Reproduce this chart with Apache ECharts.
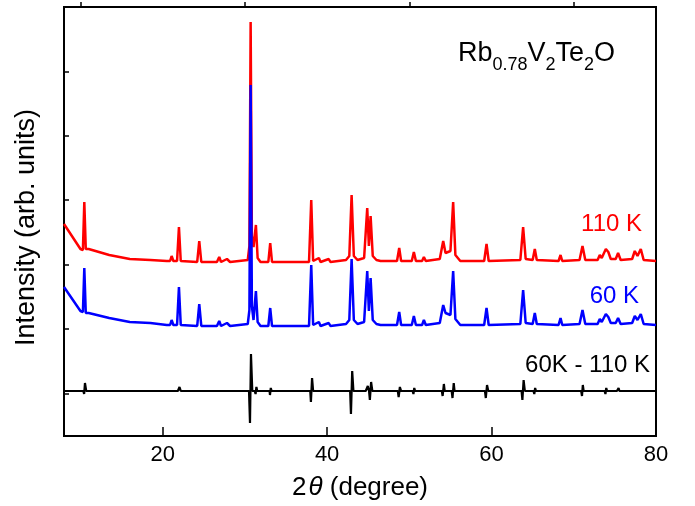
<!DOCTYPE html>
<html>
<head>
<meta charset="utf-8">
<script src="https://cdn.jsdelivr.net/npm/echarts@6/dist/echarts.min.js"></script>
<style>html,body{margin:0;padding:0;background:#fff}#c{width:695px;height:506px}</style>
</head>
<body>
<div id="c"></div>
<script>
// 2θ (degree), intensity (arb. units, vertically offset as plotted)
var red110K = [
[8.0,212],[10.0,187],[10.3,186],[10.47,234],[10.65,187],[11.0,187],[13.5,181],[16.0,177],[18.5,176],
[20.5,175],[20.9,175],[21.09,180],[21.3,175],[21.75,175],[21.98,209],[22.2,175],[24.2,174],[24.45,195],[24.7,174],
[26.6,174],[26.88,179],[27.1,174],[27.82,177],[28.2,174],[30.35,176],[30.55,190],[30.70,414],[30.85,200],[31.05,189],
[31.34,211],[31.55,178],[31.9,174],[32.85,174],[33.08,193],[33.3,174],[37.8,174],[38.07,236],[38.3,175],[39.0,178],
[39.2,174],[40.2,177],[40.4,174],[42.3,176],[42.7,180],[42.98,241],[43.25,180],[43.7,176],[44.5,178],[44.88,228],
[45.08,190],[45.29,220],[45.55,180],[46.0,176],[46.21,178],[46.5,175],[48.5,175],[48.77,188],[49.0,175],[50.3,175],
[50.55,184],[50.8,175],[51.55,175],[51.77,179],[52.0,175],[53.7,177],[54.12,195],[54.4,183],[55.0,185],[55.33,234],
[55.6,181],[56.2,175],[59.1,175],[59.39,192],[59.65,175],[63.5,176],[63.84,209],[64.15,177],[65.0,176],[65.26,187],
[65.5,176],[68.15,175],[68.39,181],[68.6,175],[70.7,176],[71.06,190],[71.4,176],[72.9,176],[73.16,181],[73.4,178],
[73.9,187],[74.2,184],[74.5,177],[75.1,177],[75.39,183],[75.7,176],[77.1,177],[77.42,185],[77.75,180],[78.15,187],
[78.5,176],[80.0,175]
];
var blue60K = [
[8.0,149],[10.0,125],[10.3,124],[10.47,168],[10.65,123],[11.0,123],[13.5,118],[16.0,114],[18.5,113],
[20.5,111],[20.9,111],[21.09,116],[21.3,111],[21.75,111],[21.98,149],[22.2,111],[24.2,110],[24.45,132],[24.7,110],
[26.6,110],[26.88,115],[27.1,110],[27.82,113],[28.2,110],[30.35,112],[30.55,126],[30.70,351],[30.85,130],[31.05,116],
[31.34,145],[31.55,114],[31.9,110],[32.85,110],[33.08,128],[33.3,110],[37.8,110],[38.07,171],[38.3,111],[39.0,114],
[39.2,110],[40.2,113],[40.4,110],[42.3,112],[42.7,116],[42.98,177],[43.25,116],[43.7,112],[44.5,114],[44.88,165],
[45.08,125],[45.29,158],[45.55,116],[46.0,112],[46.21,114],[46.5,111],[48.5,111],[48.77,124],[49.0,111],[50.3,111],
[50.55,120],[50.8,111],[51.55,111],[51.77,116],[52.0,111],[53.7,113],[54.12,131],[54.4,123],[55.0,121],[55.33,165],
[55.6,117],[56.2,111],[59.1,111],[59.39,128],[59.65,111],[63.5,112],[63.84,146],[64.15,113],[65.0,112],[65.26,123],
[65.5,112],[68.15,111],[68.39,118],[68.6,111],[70.7,112],[71.06,126],[71.4,112],[72.9,112],[73.16,117],[73.4,114],
[73.9,122],[74.2,119],[74.5,113],[75.1,113],[75.39,118],[75.7,112],[77.1,113],[77.42,120],[77.75,116],[78.15,122],
[78.5,112],[80.0,111]
];
var diff60Kminus110K = [
[8.0,45],[10.35,45],[10.45,42],[10.55,53],[10.7,45],
[21.85,45],[21.95,43],[22.05,49],[22.2,45],
[30.5,45],[30.62,13],[30.74,82],[30.9,45],
[31.2,45],[31.3,42],[31.4,49],[31.5,45],
[33.0,45],[33.05,41],[33.15,48],[33.25,45],
[37.95,45],[38.03,34],[38.17,58],[38.3,45],
[42.8,45],[42.9,22],[43.05,65],[43.2,45],
[44.7,45],[44.8,43],[44.95,50],[45.1,45],[45.2,36],[45.35,54],[45.5,45],
[48.6,45],[48.7,39],[48.85,49],[49.0,45],
[50.4,45],[50.5,42],[50.6,48],[50.7,45],
[53.95,45],[54.05,40],[54.2,52],[54.3,45],
[55.15,45],[55.25,38],[55.4,53],[55.5,45],
[59.2,45],[59.3,38],[59.45,51],[59.6,45],
[63.65,45],[63.75,36],[63.9,56],[64.05,45],
[65.1,45],[65.2,42],[65.3,48],[65.4,45],
[68.25,45],[68.35,43],[68.45,47],[68.55,45],
[70.9,45],[71.0,40],[71.1,51],[71.2,45],
[73.75,45],[73.85,42],[73.95,48],[74.05,45],
[75.25,45],[75.35,43],[75.45,48],[75.55,45],
[77.3,45],[77.4,43],[77.5,47],[77.6,45],
[78.0,45],[78.1,43],[78.2,47],[78.3,45],[80.0,45]
];
var xMajorTicks = [20, 40, 60, 80];
var xMinorTicks = [10, 30, 50, 70];
var seriesNames = ['110 K', '60 K', '60K - 110 K'];

var FONT = 'Arial, "Liberation Sans", Helvetica, sans-serif';
var chart = echarts.init(document.getElementById('c'), null, {renderer: 'canvas'});
chart.setOption({
  animation: false,
  backgroundColor: '#fff',
  grid: {left: 64, right: 39, top: 7, bottom: 70, show: true, borderColor: '#000', borderWidth: 2, backgroundColor: 'transparent'},
  xAxis: [{
    type: 'value', min: 8, max: 80, position: 'bottom',
    axisLine: {show: false},
    splitLine: {show: false},
    axisTick: {show: true, inside: true, length: 9, customValues: xMajorTicks, lineStyle: {color: '#000', width: 1.5}},
    axisLabel: {show: true, customValues: xMajorTicks, margin: 8, color: '#000', fontSize: 22, fontFamily: FONT}
  }, {
    type: 'value', min: 8, max: 80, position: 'bottom',
    axisLine: {show: false}, splitLine: {show: false}, axisLabel: {show: false},
    axisTick: {show: true, inside: true, length: 5, customValues: xMinorTicks, lineStyle: {color: '#000', width: 1.5}}
  }],
  yAxis: [{
    type: 'value', min: 0, max: 429,
    axisLine: {show: false}, splitLine: {show: false}, axisLabel: {show: false}, axisTick: {show: false}
  }, {
    type: 'value', min: 0, max: 6.66, interval: 1, inverse: true, position: 'left',
    axisLine: {show: false}, splitLine: {show: false}, axisLabel: {show: false},
    axisTick: {show: true, inside: true, length: 5, lineStyle: {color: '#000', width: 1.5}}
  }],
  series: [
    {name: seriesNames[0], type: 'line', data: red110K, showSymbol: false, symbol: 'none', lineStyle: {color: '#ff0000', width: 2.5}, z: 2},
    {name: seriesNames[1], type: 'line', data: blue60K, showSymbol: false, symbol: 'none', lineStyle: {color: '#0000ff', width: 2.5}, z: 3},
    {name: seriesNames[2], type: 'line', data: diff60Kminus110K, showSymbol: false, symbol: 'none', lineStyle: {color: '#000000', width: 2.2}, z: 4}
  ],
  graphic: [
    {type: 'text', x: 458, y: 34, z: 10, style: {
      text: '{m|Rb}{s|0.78}{m|V}{s|2}{m|Te}{s|2}{m|O}', textAlign: 'left', textVerticalAlign: 'top', fill: '#000',
      rich: {
        m: {fontSize: 27, fontFamily: FONT, lineHeight: 40, verticalAlign: 'middle', fill: '#000'},
        s: {fontSize: 18, fontFamily: FONT, lineHeight: 14, verticalAlign: 'bottom', fill: '#000'}
      }}},
    {type: 'text', x: 642, y: 224, z: 10, style: {text: seriesNames[0], fontSize: 24, fontFamily: FONT, fill: '#ff0000', textAlign: 'right', textVerticalAlign: 'middle'}},
    {type: 'text', x: 639, y: 296, z: 10, style: {text: seriesNames[1], fontSize: 24, fontFamily: FONT, fill: '#0000ff', textAlign: 'right', textVerticalAlign: 'middle'}},
    {type: 'text', x: 650, y: 365, z: 10, style: {text: seriesNames[2], fontSize: 24, fontFamily: FONT, fill: '#000', textAlign: 'right', textVerticalAlign: 'middle'}},
    {type: 'text', x: 26.5, y: 227.5, rotation: Math.PI / 2, z: 10, style: {text: 'Intensity (arb. units)', fontSize: 27, fontFamily: FONT, fill: '#000', textAlign: 'center', textVerticalAlign: 'middle'}},
    {type: 'text', x: 360, y: 488, z: 10, style: {
      text: '{n|2}{t|θ}{n| (degree)}', textAlign: 'center', textVerticalAlign: 'middle', fill: '#000',
      rich: {
        n: {fontSize: 26, fontFamily: FONT, fill: '#000'},
        t: {fontSize: 26, fontFamily: FONT, fontStyle: 'italic', fill: '#000', padding: [0, 0, 0, 2]}
      }}}
  ]
});
</script>
</body>
</html>
